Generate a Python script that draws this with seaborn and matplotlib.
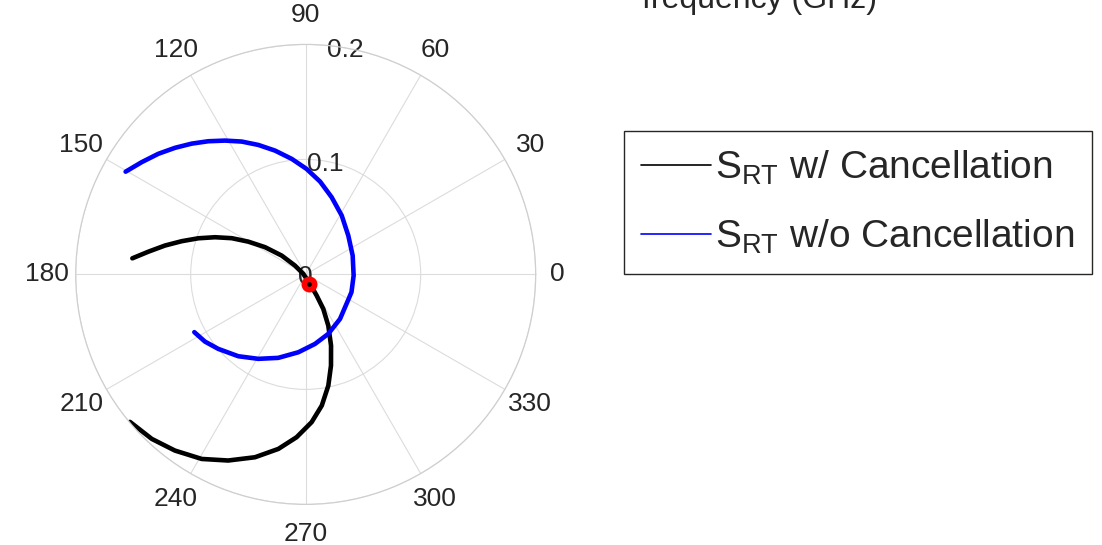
import numpy as np
import matplotlib
matplotlib.use("Agg")
import matplotlib.pyplot as plt
import seaborn as sns
from matplotlib.lines import Line2D

# ---- data ----
theta_w_deg = [174.7, 171.8, 168.4, 165.0, 161.4, 157.7, 153.9, 150.3, 146.2, 141.9,
               140.6, 168.0, 294.4, 297.4, 297.0, 293.8, 289.6, 285.5, 281.5, 277.0,
               272.3, 266.8, 261.1, 254.5, 247.4, 240.6, 233.4, 226.9, 220.0]
r_w = [0.1514, 0.1383, 0.1249, 0.1116, 0.0985, 0.0852, 0.0716, 0.0575, 0.0426, 0.0265,
       0.0121, 0.0021, 0.0091, 0.0208, 0.0337, 0.0487, 0.0657, 0.0823, 0.0987, 0.1149,
       0.1286, 0.1418, 0.1536, 0.1650, 0.1753, 0.1842, 0.1908, 0.1959, 0.1995]

theta_wo_deg = [150.3, 145.6, 140.7, 135.9, 131.1, 126.2, 121.1, 115.7, 110.1, 103.9,
                96.9, 89.5, 81.2, 71.4, 58.5, 42.3, 21.8, 358.6, 338.8, 330.1,
                307.6, 290.8, 277.6, 264.6, 251.8, 240.7, 230.5, 220.4, 213.7, 207.4]
r_wo = [0.1803, 0.1728, 0.1656, 0.1582, 0.1509, 0.1435, 0.1359, 0.1282, 0.1199, 0.1109,
        0.1012, 0.0917, 0.0817, 0.0708, 0.0600, 0.0501, 0.0440, 0.0417, 0.0427, 0.0430,
        0.0489, 0.0553, 0.0610, 0.0680, 0.0764, 0.0842, 0.0922, 0.0999, 0.1053, 0.1091]

marker_theta_deg = [290.8]
marker_r = [0.0088]

theta_ticks = list(range(0, 360, 30))
theta_labels = [str(t) for t in theta_ticks]
r_ticks = [0, 0.1, 0.2]
r_labels = ["0", "0.1", "0.2"]
legend_labels = [r"$\mathrm{S}_{\mathrm{RT}}$ w/ Cancellation",
                 r"$\mathrm{S}_{\mathrm{RT}}$ w/o Cancellation"]
top_text = "frequency (GHz)"

# ---- style ----
sns.set_theme(style="white")
plt.rcParams["font.family"] = ["Liberation Sans", "DejaVu Sans"]
plt.rcParams["mathtext.fontset"] = "custom"
plt.rcParams["mathtext.rm"] = "Liberation Sans"
plt.rcParams["mathtext.it"] = "Liberation Sans:italic"

fig = plt.figure(figsize=(11.02, 5.45), dpi=100)
ax = fig.add_axes([0.0687, 0.0745, 0.4174, 0.844], projection="polar")

sns.lineplot(x=np.deg2rad(theta_w_deg), y=r_w, ax=ax, sort=False, estimator=None,
             color="black", lw=3.3)
sns.lineplot(x=np.deg2rad(theta_wo_deg), y=r_wo, ax=ax, sort=False, estimator=None,
             color="#0000ff", lw=3.3)
ax.plot(np.deg2rad(marker_theta_deg), marker_r, "o", ms=7.5, mew=4,
        mec="#ff0000", mfc="black", zorder=5)

ax.set_xlabel("")
ax.set_ylabel("")
ax.set_ylim(0, 0.2)
ax.set_xticks(np.deg2rad(theta_ticks))
ax.set_xticklabels(theta_labels)
ax.set_yticks(r_ticks)
ax.set_yticklabels(r_labels)
ax.set_rlabel_position(80)
ax.tick_params(axis="x", labelsize=19, colors="#262626", pad=8)
ax.tick_params(axis="y", labelsize=19, colors="#262626", pad=0)
for lab in ax.get_yticklabels():
    lab.set_ha("center")
    lab.set_va("center_baseline")
for lab in ax.get_xticklabels():
    if lab.get_text() == "0":
        lab.set_ha("right")
ax.grid(True, color="#dcdcdc", lw=0.8)
ax.spines["polar"].set_color("#cfcfcf")
ax.spines["polar"].set_linewidth(0.9)
ax.set_facecolor("white")

handles = [Line2D([], [], color="black", lw=1.2),
           Line2D([], [], color="#0000ff", lw=1.2)]
leg = fig.legend(handles, legend_labels, loc="upper left",
                 bbox_to_anchor=(0.5662, 0.7596), borderaxespad=0,
                 fontsize=28, frameon=True, fancybox=False, framealpha=1,
                 edgecolor="#262626", handlelength=1.8, handletextpad=0.1,
                 borderpad=0.45, labelspacing=0.8)
leg.get_frame().set_linewidth(1.0)
for t in leg.get_texts():
    t.set_color("#262626")

fig.text(0.583, 1 - 8 / 545, top_text, fontsize=23, color="#262626",
         ha="left", va="baseline")

fig.savefig("out.png", dpi=100, facecolor="white")
